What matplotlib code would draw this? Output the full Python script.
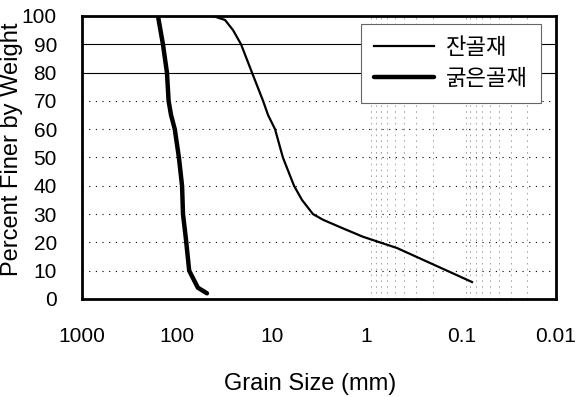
import numpy as np
import matplotlib
matplotlib.use("Agg")
from matplotlib import pyplot as plt
from matplotlib.ticker import FixedLocator, FuncFormatter, NullFormatter

plt.rcParams['font.family'] = ['Liberation Sans', 'Noto Sans CJK KR', 'DejaVu Sans']

# 입도 분포 (grain size mm, percent finer)
fine_size = [45.0, 41.5, 31.0, 25.5, 21.0, 16.1, 12.3, 10.9, 9.2, 7.6, 5.8, 4.78, 3.66, 2.87, 1.9, 1.09, 0.475, 0.077]
fine_pass = [100, 100, 98.6, 95, 90, 80, 70, 65, 60, 50, 40, 35, 30, 28, 25.4, 22, 18, 6]

coarse_size = [158, 140, 127, 122, 115, 105, 95, 88, 86, 80, 74, 69, 60, 48]
coarse_pass = [100, 90, 80, 70, 65, 60, 50, 40, 30, 21, 10, 8, 4, 2]

x_ticks = [1000, 100, 10, 1, 0.1, 0.01]
x_tick_labels = ['1000', '100', '10', '1', '0.1', '0.01']
y_ticks = [0, 10, 20, 30, 40, 50, 60, 70, 80, 90, 100]

fig = plt.figure(figsize=(5.79, 3.97), dpi=100)
ax = fig.add_axes([0.1416, 0.2469, 0.8187, 0.7128])

ax.set_xscale('log')
ax.set_xlim(1000, 0.01)
ax.set_ylim(0, 100)

# 가로 격자: 10~70 점선, 80/90 실선
for y in y_ticks[1:8]:
    ax.axhline(y, color='black', lw=0.8, ls=(0, (1, 5)), zorder=1)
for y in [80, 90]:
    ax.axhline(y, color='black', lw=0.8, zorder=1)

# 세로 보조 격자 (1 ~ 0.01 구간)
minor_x = [m * 10.0 ** e for e in (-1, -2) for m in range(2, 10)]
for x in minor_x:
    ax.axvline(x, color='#999999', lw=0.6, ls=(0, (2, 5)), zorder=1)

ax.plot(fine_size, fine_pass, color='black', lw=1.6, label='잔골재',
        solid_joinstyle='round', zorder=3)
ax.plot(coarse_size, coarse_pass, color='black', lw=3.2, label='굵은골재',
        solid_joinstyle='round', solid_capstyle='round', zorder=3)

ax.xaxis.set_major_locator(FixedLocator(x_ticks))
ax.xaxis.set_major_formatter(FuncFormatter(lambda v, pos: x_tick_labels[x_ticks.index(v)] if v in x_ticks else ''))
ax.xaxis.set_minor_formatter(NullFormatter())
ax.set_yticks(y_ticks)
ax.tick_params(axis='both', which='both', length=0, labelsize=15)
ax.tick_params(axis='x', pad=20)
ax.tick_params(axis='y', pad=18)

for s in ax.spines.values():
    s.set_linewidth(2)
    s.set_color('black')

ax.set_xlabel('Grain Size (mm)', fontsize=17)
ax.xaxis.set_label_coords(0.481, -0.262)
ax.set_ylabel('Percent Finer by Weight', fontsize=17)
ax.yaxis.set_label_coords(-0.124, 0.53)

leg = ax.legend(loc='upper right', bbox_to_anchor=(0.968, 0.97), fontsize=16,
                frameon=True, fancybox=False, handlelength=2.7, handletextpad=0.5,
                borderpad=0.6, labelspacing=0.45, borderaxespad=0)
leg.get_frame().set_edgecolor('#666666')
leg.get_frame().set_linewidth(0.8)
leg.get_frame().set_alpha(1)

fig.savefig('out.png', dpi=100)
